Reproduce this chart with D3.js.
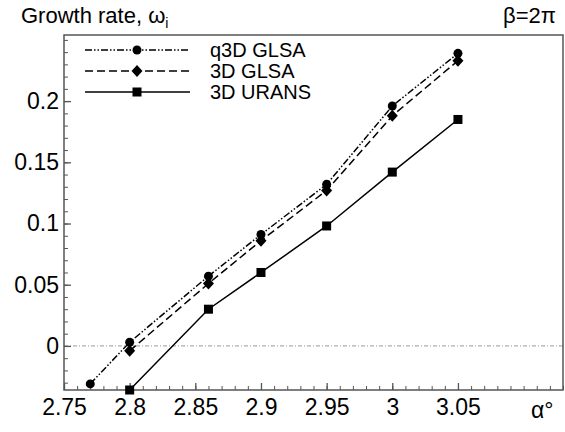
<!DOCTYPE html>
<html>
<head>
<meta charset="utf-8">
<script src="https://cdn.jsdelivr.net/npm/d3@7"></script>
<style>
  body { margin: 0; background: #fff; }
  text { font-family: "Liberation Sans", Arial, sans-serif; fill: #000; }
</style>
</head>
<body>
<div id="chart"></div>
<script>
// data
const alphaQ3D = [2.77, 2.8, 2.86, 2.9, 2.95, 3.0, 3.05];
const growthQ3D = [-0.031, 0.003, 0.057, 0.091, 0.132, 0.196, 0.239];
const alpha3D = [2.8, 2.86, 2.9, 2.95, 3.0, 3.05];
const growth3D = [-0.004, 0.051, 0.086, 0.127, 0.188, 0.233];
const alphaURANS = [2.8, 2.86, 2.9, 2.95, 3.0, 3.05];
const growthURANS = [-0.036, 0.030, 0.060, 0.098, 0.142, 0.185];
const seriesNames = ["q3D GLSA", "3D GLSA", "3D URANS"];
const xTickValues = [2.75, 2.8, 2.85, 2.9, 2.95, 3.0, 3.05];
const yTickValues = [0, 0.05, 0.1, 0.15, 0.2];

var width = 565,
    height = 432;
var margin = {top: 35, right: 2, bottom: 42, left: 64};

var svg = d3.select("#chart")
    .append("svg")
    .attr("width", width)
    .attr("height", height);

var xScale = d3.scaleLinear().domain([2.75, 3.13]).range([margin.left, width - margin.right]);
var yScale = d3.scaleLinear().domain([-0.036, 0.254]).range([height - margin.bottom, margin.top]);

var series = [
    {name: seriesNames[0], x: alphaQ3D, y: growthQ3D, dash: "7,2,1.5,2,1.5,2", marker: "circle"},
    {name: seriesNames[1], x: alpha3D, y: growth3D, dash: "8,4", marker: "diamond"},
    {name: seriesNames[2], x: alphaURANS, y: growthURANS, dash: null, marker: "square"}
];

// zero line
svg.append("line")
    .attr("x1", xScale.range()[0])
    .attr("x2", xScale.range()[1])
    .attr("y1", yScale(0))
    .attr("y2", yScale(0))
    .style("stroke", "#999")
    .style("stroke-width", 1)
    .style("stroke-dasharray", "4,2,1,2");

// minor ticks
var xMinor = d3.range(275, 314).map(d => d / 100);
var yMinor = d3.range(-3, 26).map(d => d / 100);

svg.append("g")
    .attr("transform", `translate(0,${yScale.range()[0]})`)
    .call(d3.axisBottom(xScale).tickValues(xMinor).tickSize(-4).tickFormat(""))
    .call(g => g.select(".domain").remove())
    .selectAll("line").style("stroke", "#555");

svg.append("g")
    .attr("transform", `translate(${xScale.range()[0]},0)`)
    .call(d3.axisLeft(yScale).tickValues(yMinor).tickSize(-4).tickFormat(""))
    .call(g => g.select(".domain").remove())
    .selectAll("line").style("stroke", "#555");

// X axis
var xAxis = svg.append("g")
    .attr("transform", `translate(0,${yScale.range()[0]})`)
    .call(d3.axisBottom(xScale).tickValues(xTickValues).tickSize(-7).tickPadding(9).tickFormat(d3.format("")));
xAxis.select(".domain").remove();
xAxis.selectAll("line").style("stroke", "#555").style("stroke-width", 1.3);
xAxis.selectAll("text")
    .style("font-size", "23px")
    .style("font-family", "Liberation Sans, Arial, sans-serif");

// Y axis
var yAxis = svg.append("g")
    .attr("transform", `translate(${xScale.range()[0]},0)`)
    .call(d3.axisLeft(yScale).tickValues(yTickValues).tickSize(-7).tickPadding(5).tickFormat(d3.format("")));
yAxis.select(".domain").remove();
yAxis.selectAll("line").style("stroke", "#555").style("stroke-width", 1.3);
yAxis.selectAll("text")
    .style("font-size", "23px")
    .style("font-family", "Liberation Sans, Arial, sans-serif");

// frame
svg.append("rect")
    .attr("x", xScale.range()[0])
    .attr("y", yScale.range()[1])
    .attr("width", xScale.range()[1] - xScale.range()[0])
    .attr("height", yScale.range()[0] - yScale.range()[1])
    .style("fill", "none")
    .style("stroke", "#555")
    .style("stroke-width", 1.5);

function drawMarker(g, type, cx, cy) {
    if (type == "circle") {
        g.append("circle").attr("cx", cx).attr("cy", cy).attr("r", 4.5).style("fill", "#000");
    } else if (type == "diamond") {
        g.append("path")
            .attr("d", `M${cx},${cy - 6}L${cx + 5.5},${cy}L${cx},${cy + 6}L${cx - 5.5},${cy}Z`)
            .style("fill", "#000");
    } else {
        g.append("rect").attr("x", cx - 4.5).attr("y", cy - 4.5).attr("width", 9).attr("height", 9).style("fill", "#000");
    }
}

var line = d3.line()
    .x(d => xScale(d[0]))
    .y(d => yScale(d[1]));

series.forEach(s => {
    var pts = s.x.map((v, i) => [v, s.y[i]]);
    svg.append("path")
        .datum(pts)
        .attr("d", line)
        .style("fill", "none")
        .style("stroke", "#000")
        .style("stroke-width", 1.5)
        .style("stroke-dasharray", s.dash);
    var g = svg.append("g");
    pts.forEach(p => drawMarker(g, s.marker, xScale(p[0]), yScale(p[1])));
});

// legend
var legend = svg.append("g").attr("class", "legend");
series.forEach((s, i) => {
    var ly = 50 + i * 21;
    legend.append("line")
        .attr("x1", 85).attr("x2", 190)
        .attr("y1", ly).attr("y2", ly)
        .style("stroke", "#000")
        .style("stroke-width", 1.5)
        .style("stroke-dasharray", s.dash);
    drawMarker(legend, s.marker, 137, ly);
    legend.append("text")
        .attr("x", 210)
        .attr("y", ly + 7)
        .style("font-size", "20px")
        .text(s.name);
});

// titles
var title = svg.append("text")
    .attr("x", 21)
    .attr("y", 23)
    .style("font-size", "22px")
    .text("Growth rate, ω");
title.append("tspan")
    .attr("dy", 5)
    .style("font-size", "14px")
    .text("i");

svg.append("text")
    .attr("x", 556)
    .attr("y", 23)
    .attr("text-anchor", "end")
    .style("font-size", "22px")
    .text("β=2π");

svg.append("text")
    .attr("x", 531)
    .attr("y", 418)
    .style("font-size", "23px")
    .text("α°");
</script>
</body>
</html>
